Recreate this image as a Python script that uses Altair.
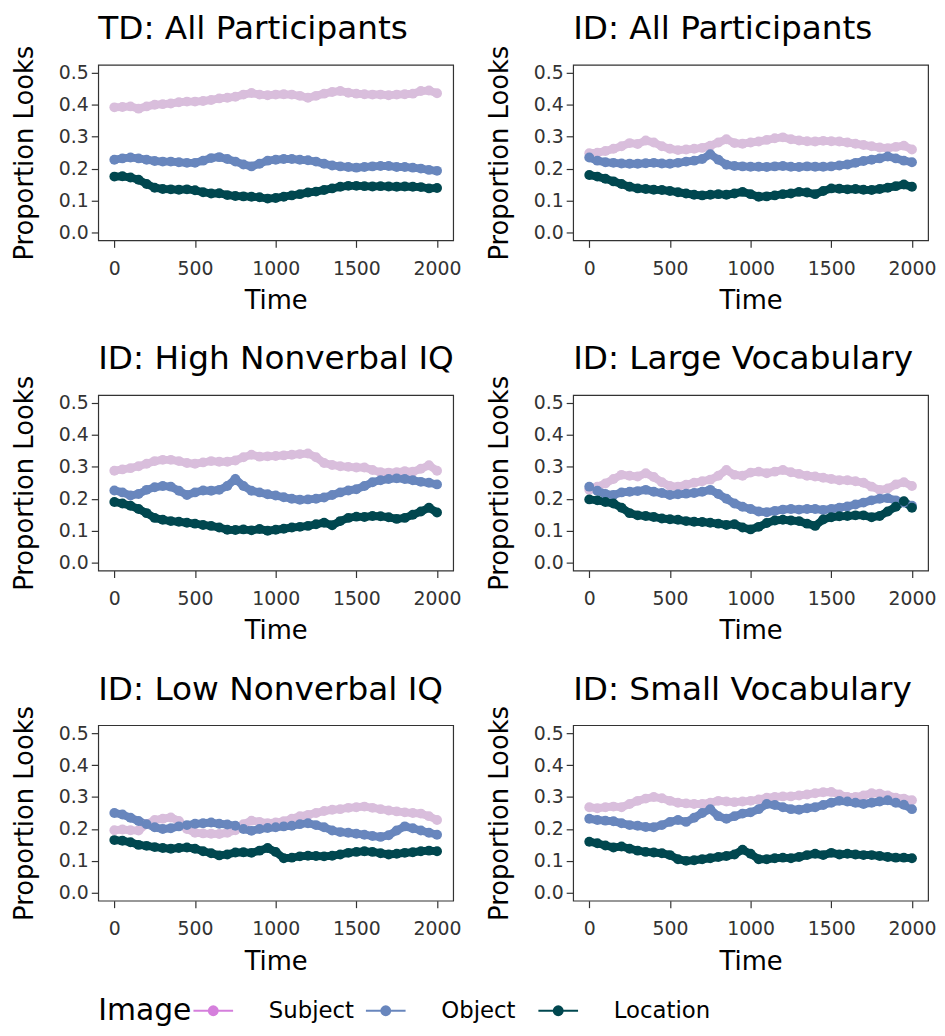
import altair as alt
import pandas as pd

TIME = list(range(0, 2001, 50))
IMAGES = ["Subject", "Object", "Location"]
PLOT_COLORS = ["#D9BEDC", "#6886BD", "#00474F"]
LEGEND_COLORS = ["#D57FDC", "#6886BD", "#00474F"]
LEGEND_TITLE = "Image"

TITLES = ["TD: All Participants", "ID: All Participants",
          "ID: High Nonverbal IQ", "ID: Large Vocabulary",
          "ID: Low Nonverbal IQ", "ID: Small Vocabulary"]

# ---- TD: All Participants ----
td_all_subject = [.392, .393, .395, .388, .395, .400, .402, .404, .408, .410, .410, .412, .415, .420, .422, .425, .432, .437, .432, .430, .432,
                  .433, .432, .428, .422, .428, .435, .440, .443, .438, .435, .433, .432, .432, .430, .432, .433, .435, .443, .445, .436]
td_all_object = [.228, .232, .235, .232, .228, .224, .222, .222, .220, .218, .218, .225, .233, .236, .230, .222, .213, .207, .215, .225, .228,
                 .230, .230, .228, .226, .222, .215, .210, .207, .205, .203, .205, .207, .208, .208, .205, .205, .203, .200, .196, .193]
td_all_location = [.175, .176, .172, .165, .152, .140, .136, .135, .134, .135, .132, .126, .122, .123, .117, .114, .113, .112, .110, .106, .108,
                   .112, .116, .120, .125, .128, .133, .138, .143, .146, .146, .145, .144, .145, .144, .143, .144, .143, .142, .138, .139]

# ---- ID: All Participants ----
id_all_subject = [.248, .250, .255, .262, .270, .280, .277, .288, .282, .270, .262, .258, .260, .262, .265, .272, .282, .292, .280, .278, .282,
                  .285, .290, .295, .298, .292, .288, .286, .285, .287, .286, .285, .282, .278, .274, .270, .266, .264, .268, .272, .260]
id_all_object = [.235, .225, .220, .218, .216, .215, .215, .217, .218, .216, .215, .218, .222, .225, .230, .245, .228, .212, .208, .207, .206,
                 .206, .205, .207, .208, .206, .205, .207, .206, .206, .207, .210, .213, .218, .224, .228, .232, .238, .232, .225, .220]
id_all_location = [.180, .175, .168, .160, .152, .143, .138, .136, .134, .133, .130, .126, .122, .118, .116, .118, .120, .118, .122, .127, .120,
                   .112, .113, .116, .120, .122, .127, .125, .120, .130, .138, .137, .135, .136, .134, .133, .136, .140, .145, .150, .143]

# ---- ID: High Nonverbal IQ ----
high_iq_subject = [.288, .292, .296, .302, .310, .318, .322, .322, .318, .312, .310, .314, .318, .316, .316, .320, .330, .338, .332, .333, .334,
                   .336, .338, .340, .342, .330, .312, .306, .302, .300, .298, .298, .290, .283, .282, .283, .286, .285, .294, .305, .288]
high_iq_object = [.226, .220, .210, .215, .228, .236, .240, .238, .225, .212, .220, .226, .225, .228, .240, .262, .240, .225, .220, .214, .210,
                  .205, .200, .197, .198, .200, .204, .212, .220, .226, .230, .240, .252, .258, .262, .264, .262, .258, .253, .250, .245]
high_iq_location = [.190, .185, .178, .168, .155, .140, .134, .130, .128, .125, .122, .118, .115, .110, .103, .102, .104, .101, .105, .100, .103,
                    .106, .110, .112, .115, .120, .125, .117, .130, .140, .144, .143, .146, .145, .142, .137, .140, .150, .160, .172, .157]

# ---- ID: Large Vocabulary ----
large_voc_subject = [.228, .238, .248, .262, .275, .272, .270, .280, .268, .252, .240, .238, .244, .250, .255, .260, .272, .290, .275, .272, .282,
                     .285, .280, .285, .290, .283, .278, .272, .270, .266, .262, .258, .258, .255, .250, .238, .228, .232, .245, .252, .240]
large_voc_object = [.238, .225, .215, .212, .220, .222, .224, .228, .222, .218, .212, .214, .216, .218, .222, .228, .215, .200, .185, .175, .168,
                    .160, .158, .162, .166, .168, .166, .168, .168, .165, .168, .172, .176, .182, .188, .195, .200, .202, .195, .188, .178]
large_voc_location = [.198, .195, .190, .185, .172, .155, .148, .146, .143, .138, .136, .134, .130, .128, .127, .125, .122, .118, .120, .110, .104,
                      .112, .124, .132, .134, .132, .130, .122, .115, .135, .142, .145, .146, .148, .148, .142, .146, .160, .175, .192, .172]

# ---- ID: Low Nonverbal IQ ----
low_iq_subject = [.196, .198, .196, .195, .215, .228, .232, .236, .225, .200, .188, .186, .185, .184, .188, .196, .215, .226, .222, .218, .220,
                  .224, .232, .240, .244, .250, .256, .260, .262, .266, .268, .270, .266, .262, .258, .255, .252, .250, .248, .240, .228]
low_iq_object = [.250, .245, .235, .225, .215, .205, .200, .202, .208, .212, .216, .218, .220, .216, .214, .210, .200, .194, .200, .203, .205,
                 .208, .210, .215, .218, .212, .205, .195, .190, .188, .185, .182, .178, .175, .180, .195, .208, .202, .195, .188, .182]
low_iq_location = [.165, .163, .158, .150, .147, .143, .140, .138, .140, .142, .138, .130, .124, .117, .120, .126, .127, .125, .132, .140, .128,
                   .108, .110, .114, .116, .115, .114, .116, .120, .125, .128, .130, .128, .124, .120, .122, .125, .127, .130, .132, .130]

# ---- ID: Small Vocabulary ----
small_voc_subject = [.268, .265, .268, .270, .268, .278, .288, .295, .300, .296, .288, .282, .280, .278, .278, .282, .288, .286, .284, .286, .288,
                     .292, .298, .300, .302, .302, .305, .308, .312, .315, .316, .308, .300, .300, .305, .312, .310, .305, .298, .295, .290]
small_voc_object = [.232, .228, .226, .224, .218, .212, .210, .206, .205, .212, .222, .228, .222, .235, .250, .262, .240, .232, .240, .248, .252,
                    .262, .278, .275, .268, .262, .260, .265, .268, .275, .282, .288, .286, .282, .278, .282, .286, .290, .282, .276, .262]
small_voc_location = [.160, .155, .148, .142, .145, .138, .132, .128, .126, .124, .118, .105, .100, .102, .105, .108, .112, .115, .120, .135, .122,
                      .105, .105, .108, .110, .108, .112, .118, .122, .118, .125, .120, .122, .120, .118, .118, .115, .112, .110, .110, .108]

SERIES = [
    (td_all_subject, td_all_object, td_all_location),
    (id_all_subject, id_all_object, id_all_location),
    (high_iq_subject, high_iq_object, high_iq_location),
    (large_voc_subject, large_voc_object, large_voc_location),
    (low_iq_subject, low_iq_object, low_iq_location),
    (small_voc_subject, small_voc_object, small_voc_location),
]

FONT = "DejaVu Sans"


def make_frame(series):
    rows = []
    for name, vals in zip(IMAGES, series):
        assert len(vals) == len(TIME)
        for t, v in zip(TIME, vals):
            rows.append({"Time": t, "Proportion": v, "Image": name})
    return pd.DataFrame(rows)


def panel(title, series):
    df = make_frame(series)
    base = alt.Chart(df)
    x = alt.X("Time:Q", scale=alt.Scale(domain=[-100, 2100], nice=False, zero=False),
              axis=alt.Axis(values=[0, 500, 1000, 1500, 2000], format="d", title="Time"))
    y = alt.Y("Proportion:Q", scale=alt.Scale(domain=[-0.025, 0.525], nice=False, zero=False),
              axis=alt.Axis(values=[0, 0.1, 0.2, 0.3, 0.4, 0.5], format=".1f", title="Proportion Looks"))
    color = alt.Color("Image:N", scale=alt.Scale(domain=IMAGES, range=PLOT_COLORS), legend=None)
    line = base.mark_line(strokeWidth=8).encode(x=x, y=y, color=color, detail="Image:N")
    pts = base.mark_circle(size=100, opacity=1).encode(x=x, y=y, color=color)
    return alt.layer(line, pts).properties(
        width=358, height=177,
        title=alt.TitleParams(title, anchor="start", frame="group", fontSize=33,
                              fontWeight="normal", font=FONT, color="black",
                              baseline="alphabetic", offset=-27),
    )


panels = [panel(t, s) for t, s in zip(TITLES, SERIES)]
rows = [alt.hconcat(panels[i], panels[i + 1], spacing=24) for i in range(0, 6, 2)]
grid = alt.vconcat(*rows, spacing=28)

# ---- legend (title, then keys: line with a dot, then the label) ----
legend_df = pd.DataFrame({"Image": IMAGES, "color": LEGEND_COLORS})
title_df = pd.DataFrame({"Image": [IMAGES[0]], "label": [LEGEND_TITLE]})
lx = alt.X("Image:N", sort=IMAGES, axis=None,
           scale=alt.Scale(type="point", domain=IMAGES, padding=0.667))
lc = alt.Color("color:N", scale=None)
lg = alt.Chart(legend_df)
legend_chart = alt.layer(
    lg.mark_point(shape="stroke", size=1600, strokeWidth=2, filled=False, opacity=1).encode(x=lx, color=lc),
    lg.mark_circle(size=120, opacity=1).encode(x=lx, color=lc),
    lg.mark_text(align="left", baseline="middle", dx=56, fontSize=23, font=FONT,
                 color="black").encode(x=lx, text="Image:N"),
    alt.Chart(title_df).mark_text(align="left", baseline="middle", dx=-116, fontSize=30,
                                  font=FONT, color="black").encode(x=lx, text="label:N"),
).properties(
    width=580, height=30,
    view=alt.ViewBackground(stroke="transparent"),
)

chart = alt.vconcat(grid, legend_chart, spacing=20).properties(
    padding={"left": 3, "top": 0, "right": 0, "bottom": 0}
).configure_view(
    stroke="#333333", strokeWidth=1.2
).configure_axis(
    grid=False, domain=False, labelFont=FONT, labelFontSize=19, labelColor="#333333",
    tickColor="#333333", tickSize=7, tickWidth=1.2,
    titleFont=FONT, titleFontSize=26, titleFontWeight="normal", titleColor="black",
).configure_axisY(
    titlePadding=21, labelPadding=3
).configure_axisX(
    titlePadding=10, labelPadding=12
)

chart.save("out.html", embed_options={"renderer": "svg", "actions": False})
